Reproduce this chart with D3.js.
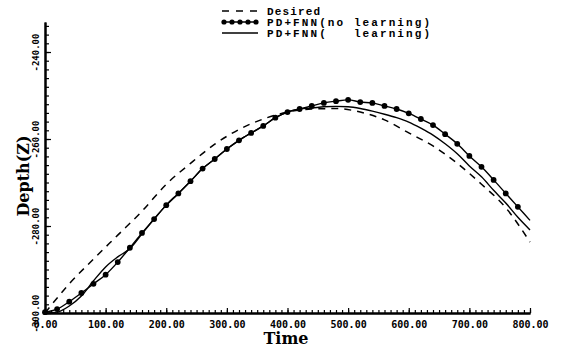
<!DOCTYPE html>
<html>
<head>
<meta charset="utf-8">
<script src="https://d3js.org/d3.v7.min.js"></script>
<style>
  body { margin: 0; background: white; }
  .axis .domain { stroke: black; stroke-width: 2px; }
  .axis line { stroke: black; stroke-width: 1.2px; }
  .axis text { font-family: "DejaVu Sans Mono", monospace; font-weight: bold; fill: black; }
  .legend text { font-family: "Liberation Mono", monospace; font-weight: bold; font-size: 11px; white-space: pre; }
  .title { font-family: "DejaVu Serif", serif; font-weight: bold; font-size: 16px; }
</style>
</head>
<body>
<svg id="chart" width="561" height="348"></svg>
<script>
// time stamps (s)
const time20 = [0,20,40,60,80,100,120,140,160,180,200,220,240,260,280,300,320,340,360,380,400,
                420,440,460,480,500,520,540,560,580,600,620,640,660,680,700,720,740,760,780,800];
const time40 = [0,40,80,120,160,200,240,280,320,360,400,440,480,520,560,600,640,680,720,760,800];

// depth series
const desired = [-300.0,-293.3,-287.6,-282.1,-276.6,-270.4,-265.6,-261.2,-257.8,-255.4,-253.8,
                 -253.1,-253.0,-253.8,-255.6,-258.6,-261.6,-265.6,-270.4,-275.8,-283.7];
const noLearning = [-299.8,-299.1,-297.4,-295.4,-293.3,-291.2,-288.3,-285.0,-281.6,-278.4,-275.2,
                    -272.5,-269.7,-266.8,-264.6,-262.3,-260.3,-258.6,-257.0,-255.1,-253.8,-253.1,
                    -252.4,-251.7,-251.3,-251.0,-251.5,-251.7,-252.4,-253.1,-254.1,-255.4,-256.8,
                    -258.9,-261.1,-263.9,-266.4,-269.4,-272.5,-275.6,-278.7];
const withLearning = [-300.0,-299.8,-298.4,-296.1,-292.6,-289.4,-287.1,-285.2,-281.8,-278.4,-275.2,
                      -272.5,-269.7,-266.8,-264.6,-262.3,-260.3,-258.6,-257.0,-255.1,-253.8,-253.1,
                      -252.9,-252.6,-252.5,-252.6,-253.0,-253.6,-254.3,-255.1,-256.1,-257.5,-259.1,
                      -261.1,-263.4,-266.2,-268.7,-271.8,-274.7,-278.0,-280.9];

// axis ticks
const xTickValues = [0,100,200,300,400,500,600,700,800];
const yTickValues = [-300,-280,-260,-240];
const legendLabels = ["Desired", "PD+FNN(no learning)", "PD+FNN(   learning)"];

const svg = d3.select("#chart");
const x = d3.scaleLinear().domain([0, 800]).range([45, 530]);
const y = d3.scaleLinear().domain([-300, -233.1]).range([313, 22]);
const fmt = d => d.toFixed(2);

// minor ticks
svg.append("g").attr("class", "axis")
   .attr("transform", "translate(0,313)")
   .call(d3.axisBottom(x).ticks(80).tickSize(-3).tickSizeOuter(0).tickFormat(""));
svg.append("g").attr("class", "axis")
   .attr("transform", "translate(45,0)")
   .call(d3.axisLeft(y).tickValues(d3.range(-300, -233, 2)).tickSize(-4).tickSizeOuter(0).tickFormat(""));

// major ticks + labels
const xAxis = svg.append("g").attr("class", "axis")
   .attr("transform", "translate(0,313)")
   .call(d3.axisBottom(x).tickValues(xTickValues).tickSize(-5).tickSizeOuter(0).tickFormat(fmt));
xAxis.selectAll("text").attr("y", 8).attr("dy", "0.71em").style("font-size", "10px");

const yAxis = svg.append("g").attr("class", "axis")
   .attr("transform", "translate(45,0)")
   .call(d3.axisLeft(y).tickValues(yTickValues).tickSize(-6).tickSizeOuter(0).tickFormat(fmt));
// rotate the labels so they read bottom to top
yAxis.selectAll("text")
   .attr("transform", "matrix(0,-1,1,0,-6,0)")
   .attr("x", 0).attr("y", 0).attr("dy", 0)
   .attr("text-anchor", "middle")
   .style("font-size", "9px");

// lines
const line = d3.line().x(d => x(d[0])).y(d => y(d[1])).curve(d3.curveMonotoneX);

svg.append("path")
   .datum(time40.map((t, i) => [t, desired[i]]))
   .attr("d", line).attr("fill", "none")
   .attr("stroke", "black").attr("stroke-width", 1.5).attr("stroke-dasharray", "7,6");

svg.append("path")
   .datum(time20.map((t, i) => [t, withLearning[i]]))
   .attr("d", line).attr("fill", "none")
   .attr("stroke", "black").attr("stroke-width", 1.4);

const noLearnPts = time20.map((t, i) => [t, noLearning[i]]);
svg.append("path")
   .datum(noLearnPts)
   .attr("d", line).attr("fill", "none")
   .attr("stroke", "black").attr("stroke-width", 1.4);
svg.selectAll("circle.mk").data(noLearnPts.filter(d => d[0] < 800))
   .join("circle").attr("class", "mk")
   .attr("cx", d => x(d[0])).attr("cy", d => y(d[1]))
   .attr("r", 2.9).attr("fill", "black");

// axis titles
svg.append("text").attr("class", "title")
   .attr("x", 286).attr("y", 344).attr("text-anchor", "middle").text("Time");
svg.append("g").attr("transform", "matrix(0,-1,1,0,29,176)")
   .append("text").attr("class", "title")
   .attr("x", 0).attr("y", 0)
   .attr("text-anchor", "middle").text("Depth(Z)");

// legend
const legend = svg.append("g").attr("class", "legend");
const rowY = [11, 22, 33];
legend.append("line").attr("x1", 222).attr("x2", 258).attr("y1", rowY[0]).attr("y2", rowY[0])
   .attr("stroke", "black").attr("stroke-width", 1.5).attr("stroke-dasharray", "7,7");
legend.append("line").attr("x1", 222).attr("x2", 258).attr("y1", rowY[1]).attr("y2", rowY[1])
   .attr("stroke", "black").attr("stroke-width", 1.4);
legend.selectAll("circle").data([0, 1, 2, 3, 4]).join("circle")
   .attr("cx", d => 224 + d * 8).attr("cy", rowY[1]).attr("r", 2.6).attr("fill", "black");
legend.append("line").attr("x1", 222).attr("x2", 258).attr("y1", rowY[2]).attr("y2", rowY[2])
   .attr("stroke", "black").attr("stroke-width", 1.4);
legend.selectAll("text").data(legendLabels).join("text")
   .attr("x", 267).attr("y", (d, i) => rowY[i] + 3.5)
   .attr("xml:space", "preserve")
   .attr("textLength", (d, i) => i === 0 ? 53 : 163)
   .attr("lengthAdjust", "spacing")
   .text(d => d);
</script>
</body>
</html>
